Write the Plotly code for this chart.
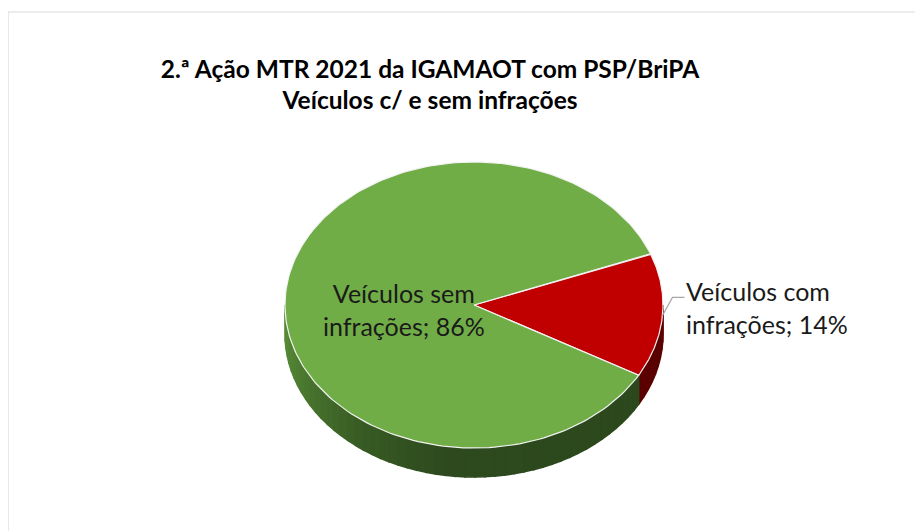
import numpy as np
import plotly.graph_objects as go

# ---- data ----
categories = ["Veículos com infrações", "Veículos sem infrações"]
label_text = ["Veículos com<br>infrações", "Veículos sem<br>infrações"]
values = [14, 86]
top_colors = ["#C00000", "#70AD47"]
side_colors = ["#5A0000", "#2D4A1E"]
title_lines = ["2.ª Ação MTR 2021 da IGAMAOT com PSP/BriPA", "Veículos c/ e sem infrações"]

# ---- geometry (axis units == screen pixels) ----
W, H = 923, 531
OFF = 8  # page body margin
CX, CY, RX, RY, DEPTH = 474, 305, 189, 143, 29
START = 69  # degrees clockwise from 12 o'clock
FONT = "Lato"


def pt(theta, dz=0.0):
    t = np.radians(theta)
    return CX + RX * np.cos(t), CY - RY * np.sin(t) + dz


def lerp_col(c1, c2, f):
    a = [int(c1[i:i + 2], 16) for i in (1, 3, 5)]
    b = [int(c2[i:i + 2], 16) for i in (1, 3, 5)]
    return "#%02x%02x%02x" % tuple(int(round(a[k] + (b[k] - a[k]) * f)) for k in range(3))


def green_shade(theta):
    t = (theta + 180) / 180.0
    stops = [(0.0, "#5C913B"), (0.12, "#4E7D31"), (0.3, "#385B24"), (0.45, "#2D4A1E"), (1.0, "#2B471C")]
    for (t0, c0), (t1, c1) in zip(stops[:-1], stops[1:]):
        if t <= t1:
            return lerp_col(c0, c1, (t - t0) / (t1 - t0))
    return stops[-1][1]


fig = go.Figure()
total = float(sum(values))
cum = 0.0
slices = []
for i, v in enumerate(values):
    a0 = 90 - START - 360 * cum / total
    a1 = a0 - 360 * v / total
    slices.append((a0, a1))
    cum += v

# sides (front-facing part, where sin(theta) < 0)
for i, (a0, a1) in enumerate(slices):
    for k in (-2, -1, 0, 1):
        lo = max(a1, -180 + 360 * k)
        hi = min(a0, 0 + 360 * k)
        if hi <= lo:
            continue
        n_strips = max(1, int((hi - lo) / 3))
        edges = np.linspace(lo, hi, n_strips + 1)
        for j in range(n_strips):
            s0, s1 = edges[j], edges[j + 1]
            th = np.linspace(s0, s1, 8)
            xt, yt = pt(th)
            xb, yb = pt(th[::-1], DEPTH)
            xs = np.concatenate([xt, xb, xt[:1]])
            ys = np.concatenate([yt, yb, yt[:1]])
            if i == 1:
                col = green_shade((s0 + s1) / 2 - 360 * k)
            else:
                col = side_colors[i]
            fig.add_trace(go.Scatter(x=xs, y=ys, mode="lines", fill="toself",
                                     fillcolor=col, line=dict(color=col, width=1.6),
                                     hoverinfo="skip", showlegend=False))

# top faces
for i, (a0, a1) in enumerate(slices):
    th = np.linspace(a0, a1, 200)
    xa, ya = pt(th)
    xs = np.concatenate([[CX], xa, [CX]])
    ys = np.concatenate([[CY], ya, [CY]])
    fig.add_trace(go.Scatter(x=xs, y=ys, mode="lines", fill="toself",
                             fillcolor=top_colors[i], line=dict(color="#F2F2F2", width=1.2),
                             name=categories[i], hoveron="fills",
                             text="%s: %d%%" % (categories[i], values[i]),
                             hoverinfo="text", showlegend=False))

# labels
pcts = [round(100 * v / total) for v in values]
a0, a1 = slices[0]
mid = (a0 + a1) / 2
sx, sy = pt(mid)
ex, ey = sx + 10, sy - 18
fig.add_trace(go.Scatter(x=[sx, ex, ex + 12], y=[sy, ey, ey], mode="lines",
                         line=dict(color="#A6A6A6", width=1.2), hoverinfo="skip", showlegend=False))
fig.add_annotation(x=ex + 12, y=ey + 10, xref="x", yref="y", xanchor="left", yanchor="middle",
                   text="%s; %d%%" % (label_text[0], pcts[0]), showarrow=False, align="left",
                   font=dict(family=FONT, size=25, color="#1A1A1A"))
fig.add_annotation(x=404, y=309, xref="x", yref="y", xanchor="center", yanchor="middle",
                   text="%s; %d%%" % (label_text[1], pcts[1]), showarrow=False, align="center",
                   font=dict(family=FONT, size=25, color="#1A1A1A"))

# frame
fig.add_shape(type="rect", xref="x", yref="y", x0=8, y0=12, x1=W + 10, y1=H + 10,
              line=dict(color="#D9D9D9", width=1.2), fillcolor="rgba(0,0,0,0)", layer="below")

FW, FH = W - OFF, H - OFF
fig.update_layout(
    width=FW, height=FH,
    margin=dict(l=0, r=0, t=0, b=0),
    paper_bgcolor="white", plot_bgcolor="white",
    title=dict(text="<b>" + "<br>".join(title_lines) + "</b>",
               x=(430 - OFF) / FW, xanchor="center", y=1 - (77.5 - OFF) / FH, yanchor="middle",
               font=dict(family=FONT, size=24.5, color="#000000")),
    xaxis=dict(range=[OFF, W], visible=False, fixedrange=True),
    yaxis=dict(range=[H, OFF], visible=False, fixedrange=True),
    showlegend=False,
)

fig.write_html("out.html")
